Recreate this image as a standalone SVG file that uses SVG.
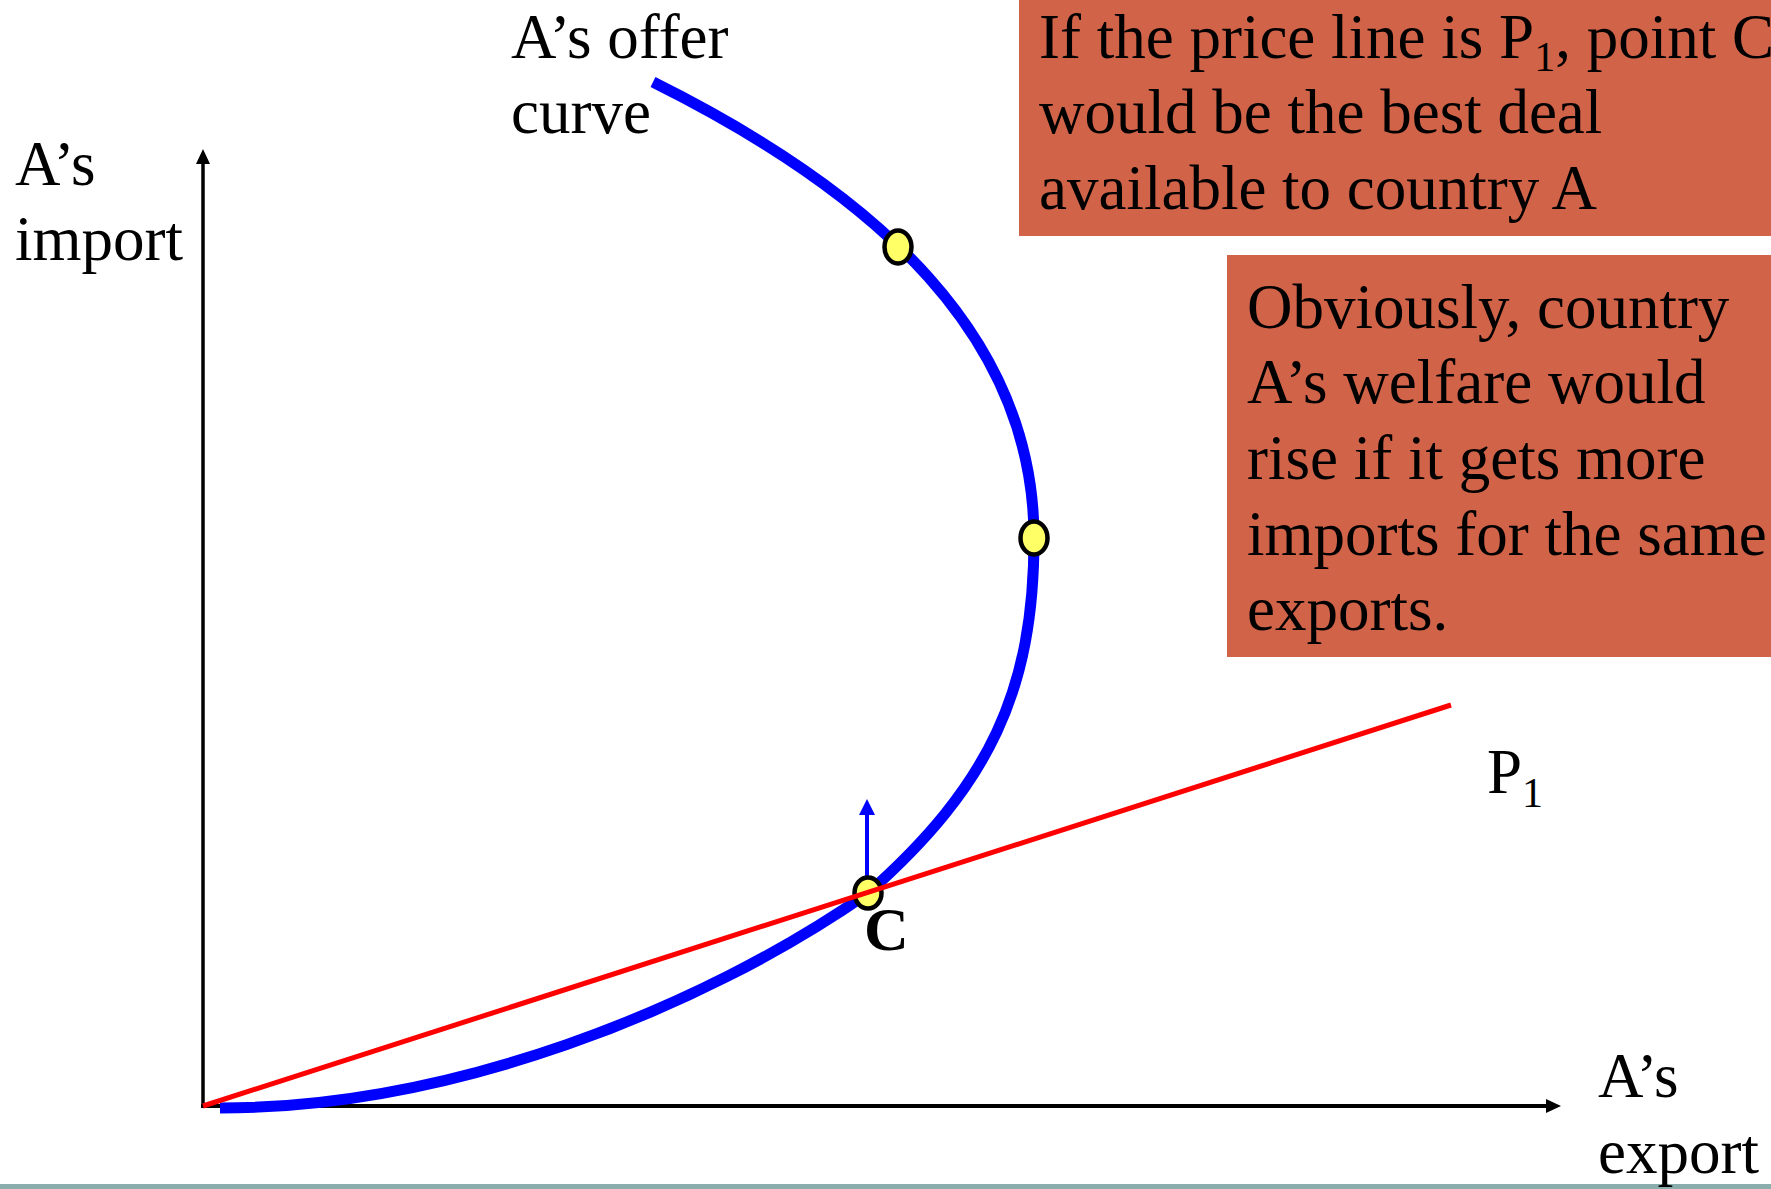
<svg xmlns="http://www.w3.org/2000/svg" width="1771" height="1189" viewBox="0 0 1771 1189">
<style>
  text { font-family: "Liberation Serif", "Times New Roman", serif; fill: #000; }
  .t { font-size: 63px; }
  .bx { fill: #D16349; }
  .pt { fill: #FFFF66; stroke: #000; stroke-width: 4.5; }
  .sub { font-size: 42px; }
</style>
<defs>
  <marker id="ahk" markerWidth="16" markerHeight="16" refX="1" refY="8" orient="auto" markerUnits="userSpaceOnUse">
    <path d="M0,1 L15,8 L0,15 Z" fill="#000"/>
  </marker>
  <marker id="ahb" markerWidth="18" markerHeight="18" refX="1" refY="9" orient="auto" markerUnits="userSpaceOnUse">
    <path d="M0,1 L16,9 L0,17 Z" fill="#0000FF"/>
  </marker>
</defs>
<rect width="1771" height="1189" fill="#fff"/>
<rect x="0" y="1184" width="1771" height="5" fill="#8AAEAB"/>

<g id="box1">
  <rect class="bx" x="1019" y="0" width="752" height="236"/>
  <text class="t" x="1039" y="58">If the price line is P<tspan class="sub" dy="13">1</tspan><tspan dy="-13">, point C</tspan></text>
  <text class="t" x="1039" y="133">would be the best deal</text>
  <text class="t" x="1039" y="209">available to country A</text>
</g>
<g id="box2">
  <rect class="bx" x="1227" y="255" width="544" height="402"/>
  <text class="t" x="1247" y="328">Obviously, country</text>
  <text class="t" x="1247" y="403">A’s welfare would</text>
  <text class="t" x="1247" y="479">rise if it gets more</text>
  <text class="t" x="1247" y="555">imports for the same</text>
  <text class="t" x="1247" y="630">exports.</text>
</g>

<g id="connectors">
  <line x1="203" y1="1108" x2="203" y2="163" stroke="#000" stroke-width="3.5" marker-end="url(#ahk)"/>
  <line x1="201" y1="1106" x2="1547" y2="1106" stroke="#000" stroke-width="4" marker-end="url(#ahk)"/>
  <path id="offer-curve" d="M220,1108 C450,1108 700,1010 868,893 C990,785 1034,690 1034,538 C1034,338 880,195 653,82" fill="none" stroke="#0000FF" stroke-width="11"/>
  <line x1="867" y1="880" x2="867" y2="814" stroke="#0000FF" stroke-width="4" marker-end="url(#ahb)"/>
</g>

<g id="point-top"><ellipse class="pt" cx="898" cy="247" rx="13.5" ry="16.5"/></g>
<g id="point-mid"><ellipse class="pt" cx="1034" cy="538" rx="13.5" ry="16.5"/></g>
<g id="point-c"><ellipse class="pt" cx="868" cy="893" rx="13.5" ry="15.5"/></g>

<g id="price-line">
  <line x1="203" y1="1106" x2="1451" y2="705" stroke="#FF0000" stroke-width="5"/>
</g>

<g id="labels">
  <text class="t" x="511" y="58">A’s offer</text>
  <text class="t" x="511" y="133">curve</text>
  <text class="t" x="15" y="185">A’s</text>
  <text class="t" x="15" y="260">import</text>
  <text class="t" x="1598" y="1097">A’s</text>
  <text class="t" x="1598" y="1173">export</text>
  <text class="t" x="1487" y="793">P<tspan class="sub" dy="14">1</tspan></text>
  <text x="864" y="950" font-size="62" font-weight="bold">C</text>
</g>
</svg>
